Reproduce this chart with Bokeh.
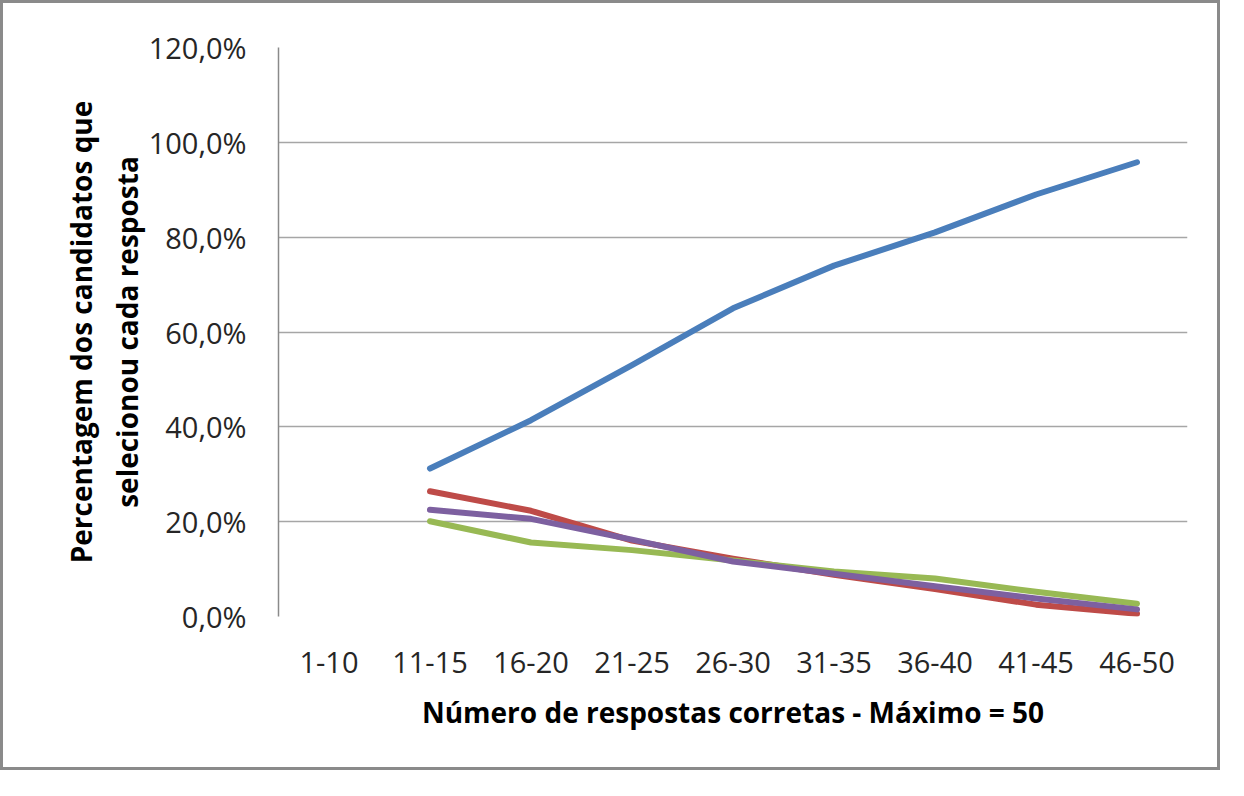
from bokeh.plotting import figure
from bokeh.embed import file_html
from bokeh.resources import INLINE
from bokeh.models import FixedTicker, CustomJSTickFormatter
import math

categories = ["1-10", "11-15", "16-20", "21-25", "26-30", "31-35", "36-40", "41-45", "46-50"]
blue_vals = [math.nan, 31.2, 41.4, 53.0, 65.0, 74.0, 81.0, 89.0, 95.8]
red_vals = [math.nan, 26.4, 22.3, 16.0, 12.2, 8.8, 5.8, 2.5, 0.6]
green_vals = [math.nan, 20.1, 15.6, 14.0, 11.8, 9.5, 8.0, 5.2, 2.7]
purple_vals = [math.nan, 22.5, 20.6, 16.2, 11.6, 9.0, 6.4, 3.8, 1.5]
y_ticks = [0, 20, 40, 60, 80, 100, 120]

series = [
    (blue_vals, "#4a7ebb"),
    (red_vals, "#be4b48"),
    (green_vals, "#98b954"),
    (purple_vals, "#7d60a0"),
]

W, H = 1220, 770
p = figure(x_range=categories, y_range=(0, 120), width=W, height=H,
           output_backend="svg", toolbar_location=None,
           min_border_left=275, min_border_right=36, min_border_top=44, min_border_bottom=157)
p.styles = {"border": "3px solid #8a8a8a"}
p.outline_line_color = None
p.background_fill_color = "white"
p.border_fill_color = "white"

for vals, col in series:
    xs = [c for c, v in zip(categories, vals) if not math.isnan(v)]
    ys = [v for v in vals if not math.isnan(v)]
    p.line(xs, ys, line_color=col, line_width=6, line_join="round", line_cap="round")

p.yaxis.ticker = FixedTicker(ticks=y_ticks)
p.yaxis.formatter = CustomJSTickFormatter(code="return tick.toFixed(1).replace('.', ',') + '%';")
p.ygrid.grid_line_color = "#a6a6a6"
p.ygrid.grid_line_width = 1.5
p.xgrid.grid_line_color = None

for ax in (p.xaxis[0], p.yaxis[0]):
    ax.major_tick_line_color = None
    ax.minor_tick_line_color = None
    ax.major_label_text_font = "Open Sans"
    ax.major_label_text_font_size = "29px"
    ax.major_label_text_color = "#262626"
    ax.axis_label_text_font = "Open Sans"
    ax.axis_label_text_font_style = "bold"
    ax.axis_label_text_font_size = "28px"
    ax.axis_label_text_color = "#000000"

p.yaxis.axis_line_color = "#8a8a8a"
p.yaxis.axis_line_width = 1.5
p.xaxis.axis_line_color = None
p.yaxis.major_label_standoff = 26
p.xaxis.major_label_standoff = 29
p.yaxis.axis_label = "Percentagem dos candidatos que\nselecionou cada resposta"
p.xaxis.axis_label = "Número de respostas corretas - Máximo = 50"
p.yaxis.axis_label_standoff = 0
p.xaxis.axis_label_standoff = 17

open("out.html", "w").write(file_html(p, INLINE))
